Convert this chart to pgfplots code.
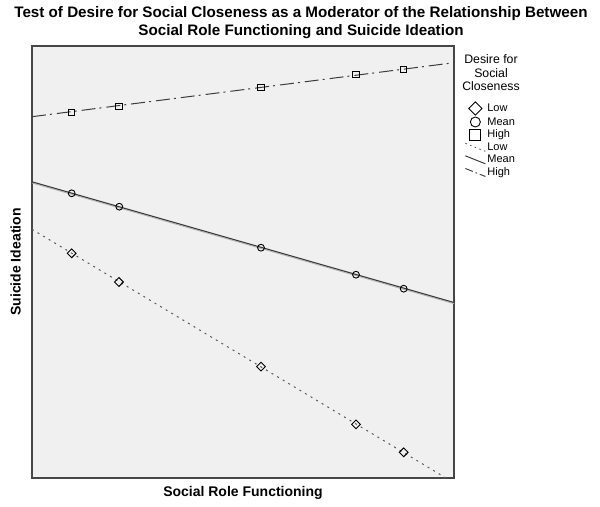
\documentclass[border=0pt]{standalone}
\usepackage{fontspec}
\setmainfont{Liberation Sans}
\usepackage{pgfplots}
\pgfplotsset{compat=1.18}
\definecolor{bgc}{RGB}{240,240,240}
\definecolor{frame}{RGB}{70,70,70}
\definecolor{ln}{RGB}{60,60,60}
\definecolor{lndot}{RGB}{90,90,90}

\pgfplotsset{
  markimg/.style={legend image code/.code={%
      \path[draw=none, fill=none] (0pt,-4pt) rectangle (22pt,4pt);
      \draw[##1, mark size=#1] plot coordinates {(11pt,0pt)};}},
  lineimg/.style={legend image code/.code={%
      \path[draw=none, fill=none] (0pt,-4pt) rectangle (22pt,4pt);
      \draw[##1] (1pt,4pt) -- (21pt,-4pt);}},
}

\begin{document}
\begin{tikzpicture}
\begin{axis}[
    scale only axis,
    width=422pt, height=432pt,
    xmin=32, xmax=454, ymin=29, ymax=461,
    xtick=\empty, ytick=\empty,
    axis line style={frame, line width=1.3pt},
    axis background/.style={fill=bgc},
    clip=false,
    xlabel={\bfseries Social Role Functioning},
    ylabel={\bfseries Suicide Ideation},
    label style={font=\fontsize{14}{16}\selectfont},
    xlabel style={at={(axis description cs:0.5,-0.035)}, anchor=center},
    ylabel style={at={(axis description cs:-0.039,0.5)}, anchor=center},
    legend style={at={(axis description cs:1.017,0.876)}, anchor=north west,
        draw=none, fill=none, font=\fontsize{11}{12}\selectfont,
        row sep=1.4pt,
        nodes={inner sep=1pt}},
    legend cell align=left,
]
% fitted lines
\addplot[lndot, line width=1pt, dash pattern=on 2pt off 4.5pt, forget plot] coordinates {
    (32,277.7) (446,29) };
\addplot[gray!60, line width=0.8pt, forget plot] coordinates {
    (32,324.0) (454,203.3) };
\addplot[ln, line width=1.1pt, forget plot] coordinates {
    (32,325.2) (454,204.5) };
\addplot[ln, line width=1pt, dash pattern=on 14pt off 4pt on 2pt off 5pt, forget plot] coordinates {
    (32,390.3) (454,444.3) };
% group points
\addplot[only marks, mark=square, mark size=3.1pt, mark options={rotate=45, black, line width=0.9pt}, markimg=4.7pt] coordinates {
    (71.7,253.7) (119,225) (261,140.3) (356,82.7) (403.7,54.7) };
\addplot[only marks, mark=o, mark size=3.4pt, mark options={black, line width=0.9pt}, markimg=5pt] coordinates {
    (71.7,313.7) (119.3,300.3) (261,259.3) (356,232.3) (403.7,218.3) };
\addplot[only marks, mark=square, mark size=3.2pt, mark options={black, line width=0.9pt}, markimg=5.5pt] coordinates {
    (71.7,394.7) (119,400.7) (261,419.5) (356,432.5) (403.7,437.5) };
\addlegendentry{Low}
\addlegendentry{Mean}
\addlegendentry{High}
\addlegendimage{lndot, line width=0.9pt, dash pattern=on 1.5pt off 3.5pt, lineimg}
\addlegendentry{Low}
\addlegendimage{ln, line width=1pt, lineimg}
\addlegendentry{Mean}
\addlegendimage{ln, line width=0.9pt, dash pattern=on 8pt off 3pt on 1.5pt off 3pt, lineimg}
\addlegendentry{High}

\node[font=\fontsize{15.2}{18}\selectfont\bfseries, align=center]
    at (axis description cs:0.6374,1.0532)
    {Test of Desire for Social Closeness as a Moderator of the Relationship Between\\
     Social Role Functioning and Suicide Ideation};
\node[font=\fontsize{12.3}{13.5}\selectfont, align=center]
    at (axis description cs:1.0877,0.9375) {Desire for\\Social\\Closeness};
% page extent
\path (axis description cs:-0.0758,-0.0671) rectangle (axis description cs:1.346,1.1065);
\end{axis}
\end{tikzpicture}
\end{document}
